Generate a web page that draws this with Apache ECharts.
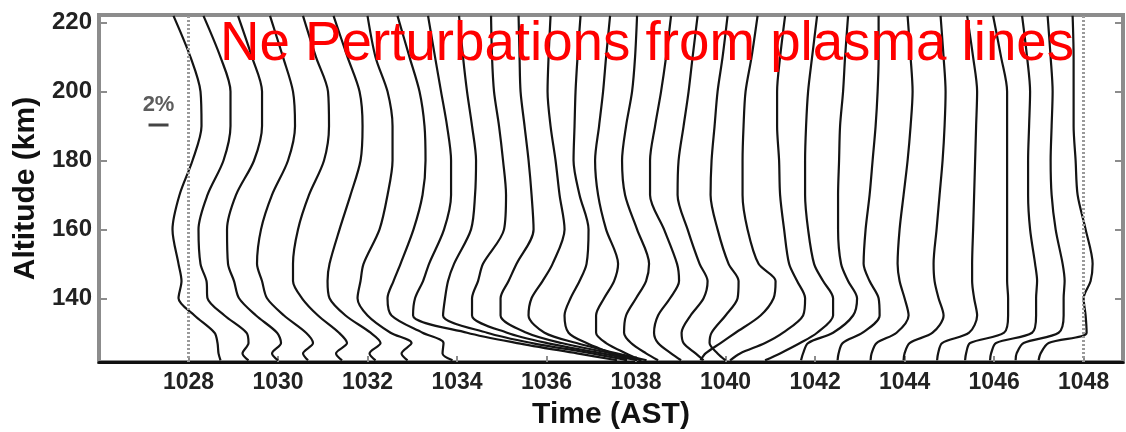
<!DOCTYPE html>
<html>
<head>
<meta charset="utf-8">
<title>Ne Perturbations from plasma lines</title>
<script src="https://cdn.jsdelivr.net/npm/echarts@6.0.0/dist/echarts.min.js"></script>
<style>
  html, body { margin: 0; padding: 0; background: #ffffff; }
  #chart { width: 1126px; height: 432px; }
</style>
</head>
<body>
<div id="chart"></div>
<script>
// Altitudes (km) at which every profile is sampled, from the top down
const altitudes = [222, 210, 200, 190, 180, 170, 160, 150, 145, 140, 135, 130, 127, 124, 122];

// Start time of each 40 s profile, HHMM with decimal minutes (AST)
const profileTimes = [
  1028.00, 1028.67, 1029.33, 1030.00, 1030.67, 1031.33, 1032.00, 1032.67,
  1033.33, 1034.00, 1034.67, 1035.33, 1036.00, 1036.67, 1037.33, 1038.00,
  1038.67, 1039.33, 1040.00, 1040.67, 1041.33, 1042.00, 1042.67, 1043.33,
  1044.00, 1044.67, 1045.33, 1046.00, 1046.67, 1047.33, 1048.00
];

// Electron density perturbation (%) of each profile, one value per altitude
const nePerturbations = [
  [-1.5, 0.2, 1.2, 1.3, 0.4, -0.9, -1.6, -1.0, -0.7, -1.0, 0.6, 2.6, 2.9, 3.0, 3.2],
  [-1.5, 0.2, 1.2, 1.2, 0.5, -1.1, -2.0, -1.8, -1.2, -1.1, 0.6, 2.8, 3.0, 2.4, 3.0],
  [-1.0, 0.4, 1.4, 1.4, 0.6, -1.2, -2.1, -2.0, -1.4, -0.9, 0.8, 2.9, 3.3, 2.4, 3.0],
  [-0.8, 0.5, 1.5, 1.7, 1.0, -0.6, -1.7, -2.1, -1.6, -1.1, 0.6, 2.8, 3.5, 2.5, 3.0],
  [-0.5, 0.8, 2.0, 2.1, 1.6, 0.1, -1.0, -1.5, -1.5, -0.6, 1.0, 3.1, 3.9, 2.8, 3.4],
  [-0.4, 1.0, 2.2, 2.5, 2.3, 1.3, 0.2, -0.8, -1.0, -0.8, 0.8, 3.3, 4.3, 3.2, 3.8],
  [0.0, 0.8, 2.0, 2.5, 2.5, 2.0, 1.2, -0.4, -0.7, -1.0, 0.0, 2.3, 4.4, 3.4, 4.0],
  [0.0, 1.2, 2.2, 2.7, 2.8, 2.5, 1.6, 0.3, -0.4, -1.0, -0.6, 2.5, 4.6, 4.5, 5.5],
  [0.1, 0.8, 1.4, 2.0, 2.4, 2.4, 1.7, 0.2, -0.4, -1.2, -1.4, 4.0, 9.0, 15.0, 19.0],
  [0.2, 0.6, 1.0, 1.5, 1.9, 1.8, 1.4, -0.3, -0.9, -1.2, -1.4, 3.0, 7.5, 13.5, 17.0],
  [0.4, 0.5, 0.7, 1.2, 1.6, 1.9, 1.7, -0.4, -0.9, -1.5, -1.5, 2.0, 6.0, 11.5, 15.0],
  [0.2, 0.3, 0.4, 0.8, 1.2, 1.5, 1.7, 0.0, -0.8, -1.6, -1.6, 1.0, 4.5, 9.5, 12.5],
  [0.4, 0.2, 0.1, 0.4, 0.9, 1.3, 1.8, 0.6, -0.4, -1.5, -1.8, -0.2, 3.0, 7.0, 10.0],
  [0.4, 0.1, -0.1, -0.2, -0.3, 0.3, 1.2, 1.0, 0.3, -0.6, -1.2, -0.8, 1.0, 3.5, 5.0],
  [0.4, 0.0, -0.3, -0.7, -1.1, -0.8, 0.0, 1.2, 0.8, -0.2, -1.0, -1.0, 0.0, 2.0, 3.5],
  [0.1, -0.1, -0.4, -1.0, -1.4, -1.1, 0.1, 1.3, 1.0, 0.0, -1.0, -1.2, -0.5, 1.0, 2.2],
  [0.5, 0.0, -0.5, -1.1, -1.6, -1.6, -0.2, 1.1, 1.3, 0.4, -0.8, -1.2, -0.8, 0.5, 1.5],
  [0.2, -0.3, -0.7, -1.2, -1.7, -1.8, -0.8, 0.4, 1.2, 0.8, -0.5, -1.4, -1.2, 0.0, 0.8],
  [0.2, -0.3, -0.8, -1.1, -1.4, -1.5, -0.8, 0.3, 1.3, 1.2, 0.0, -1.4, -1.6, -0.8, 0.0],
  [0.2, -0.4, -1.0, -1.2, -1.3, -1.3, -0.8, 0.3, 2.0, 1.8, 0.5, -2.0, -3.5, -5.0, -5.5],
  [0.0, -0.5, -0.8, -0.8, -0.6, -0.5, -0.1, 0.4, 1.2, 2.0, 1.8, -0.2, -2.0, -4.5, -5.5],
  [0.2, -0.3, -0.7, -0.9, -1.0, -1.0, -0.7, -0.1, 0.8, 1.8, 1.8, 0.2, -1.5, -3.5, -5.0],
  [0.3, 0.0, -0.2, -0.5, -0.6, -0.7, -0.7, -0.4, 0.3, 1.2, 0.8, -1.2, -3.7, -4.2, -4.4],
  [0.4, 0.4, 0.3, 0.1, -0.2, -0.5, -0.9, -1.1, -0.5, 0.4, 0.5, -1.2, -3.2, -3.6, -3.7],
  [0.3, 0.6, 0.8, 0.6, 0.3, -0.1, -0.5, -0.7, -0.5, 0.0, 0.4, -0.8, -2.8, -3.3, -3.4],
  [0.6, 0.9, 1.1, 1.0, 0.8, 0.5, 0.2, -0.1, 0.0, 0.4, 0.9, -0.2, -2.5, -3.0, -3.1],
  [0.3, 0.9, 1.3, 1.2, 1.1, 1.0, 0.9, 0.8, 0.8, 1.0, 1.3, 0.5, -2.2, -2.6, -2.7],
  [-0.1, 0.7, 1.3, 1.3, 1.3, 1.3, 1.3, 1.3, 1.3, 1.4, 1.4, 1.0, -2.4, -2.8, -2.9],
  [-0.2, 0.3, 0.6, 0.5, 0.4, 0.4, 0.6, 1.1, 1.3, 1.2, 1.2, 0.8, -2.8, -3.3, -3.4],
  [-0.6, -0.3, -0.1, -0.2, -0.3, -0.2, 0.2, 0.9, 1.1, 1.0, 1.0, 0.5, -3.0, -3.7, -3.8],
  [-1.1, -1.0, -1.0, -1.0, -0.8, -0.6, 0.2, 0.9, 0.7, 0.0, 0.2, 0.3, -3.5, -4.3, -4.5]
];

// Tick labels
const xTicks = [1028, 1030, 1032, 1034, 1036, 1038, 1040, 1042, 1044, 1046, 1048];
const yTicks = [140, 160, 180, 200, 220];

// Size of the reference scale bar, in percent
const scaleBarPercent = 2;

// Horizontal extent (minutes of time axis) that one percent of perturbation spans
const MIN_PER_PERCENT = 0.2235;

const FONT = '"Liberation Sans", Arial, Helvetica, sans-serif';
const chart = echarts.init(document.getElementById('chart'), null, { renderer: 'canvas' });

// One line per profile: offset from its start time by the scaled perturbation
const profileSeries = nePerturbations.map((pcts, k) => ({
  type: 'line',
  name: 'profile ' + k,
  data: altitudes.map((alt, i) => [profileTimes[k] + pcts[i] * MIN_PER_PERCENT, alt]),
  showSymbol: false,
  smooth: 0.3,
  silent: true,
  z: 3,
  lineStyle: { color: '#141414', width: 2.2 }
}));

// Dotted zero lines for the first and last profile
profileSeries[0].markLine = {
  silent: true,
  symbol: 'none',
  label: { show: false },
  lineStyle: { type: [2, 2], color: '#9a9a9a', width: 3 },
  data: [{ xAxis: profileTimes[0] }, { xAxis: profileTimes[profileTimes.length - 1] }]
};

// Scale bar anchored near the upper left of the plot
const barCentre = [1027.33, 190.3];
const barHalf = scaleBarPercent * MIN_PER_PERCENT / 2;

const plainNumber = (v) => String(v);

const option = {
  animation: false,
  backgroundColor: '#ffffff',
  grid: {
    left: 99, right: 3, top: 15, bottom: 70,
    outerBoundsMode: 'none',
    containLabel: false,
    show: true, borderColor: '#8c8c8c', borderWidth: 4, backgroundColor: 'transparent'
  },
  xAxis: {
    type: 'value',
    min: 1026,
    max: 1048.88,
    splitLine: { show: false },
    axisLine: { show: true, onZero: false, lineStyle: { color: '#111111', width: 3 } },
    axisTick: { show: true, inside: true, length: 6, customValues: xTicks, lineStyle: { color: '#8c8c8c', width: 2 } },
    axisLabel: {
      customValues: xTicks, formatter: plainNumber, margin: 9,
      fontSize: 23, fontWeight: 'bold', color: '#222222', fontFamily: FONT
    },
    name: 'Time (AST)',
    nameLocation: 'middle',
    nameGap: 38,
    nameTextStyle: { fontSize: 30, fontWeight: 'bold', color: '#111111', fontFamily: FONT }
  },
  yAxis: [
    {
      type: 'value',
      min: 121.5,
      max: 222.24,
      splitLine: { show: false },
      axisLine: { show: true, onZero: false, lineStyle: { color: '#8c8c8c', width: 4 } },
      axisTick: { show: true, inside: true, length: 8, customValues: yTicks, lineStyle: { color: '#8c8c8c', width: 2 } },
      axisLabel: {
        customValues: yTicks, formatter: plainNumber, margin: 7,
        fontSize: 24, fontWeight: 'bold', color: '#222222', fontFamily: FONT
      },
      name: 'Altitude (km)',
      nameLocation: 'middle',
      nameGap: 53,
      nameRotate: 90,
      nameTextStyle: { fontSize: 30, fontWeight: 'bold', color: '#111111', fontFamily: FONT }
    },
    {
      type: 'value',
      position: 'right',
      min: 121.5,
      max: 222.24,
      splitLine: { show: false },
      axisLine: { show: false },
      axisTick: { show: true, inside: true, length: 8, customValues: yTicks, lineStyle: { color: '#8c8c8c', width: 2 } },
      axisLabel: { show: false }
    }
  ],
  series: profileSeries.concat([
    {
      type: 'line',
      name: 'scale bar',
      data: [[barCentre[0] - barHalf, barCentre[1]], [barCentre[0] + barHalf, barCentre[1]]],
      showSymbol: false,
      silent: true,
      z: 4,
      lineStyle: { color: '#444444', width: 3 }
    },
    {
      type: 'scatter',
      name: 'scale label',
      data: [barCentre],
      symbolSize: 0,
      silent: true,
      z: 4,
      label: {
        show: true, position: 'top', distance: 9,
        formatter: scaleBarPercent + '%',
        fontSize: 22, fontWeight: 'bold', color: '#333333', fontFamily: FONT
      }
    }
  ]),
  graphic: [
    {
      type: 'text',
      left: 220,
      top: 17.5,
      z: 100,
      silent: true,
      style: {
        text: 'Ne Perturbations from plasma lines',
        fontSize: 54.7,
        fontFamily: FONT,
        fill: '#ff0000'
      }
    }
  ]
};

chart.setOption(option);
</script>
</body>
</html>
